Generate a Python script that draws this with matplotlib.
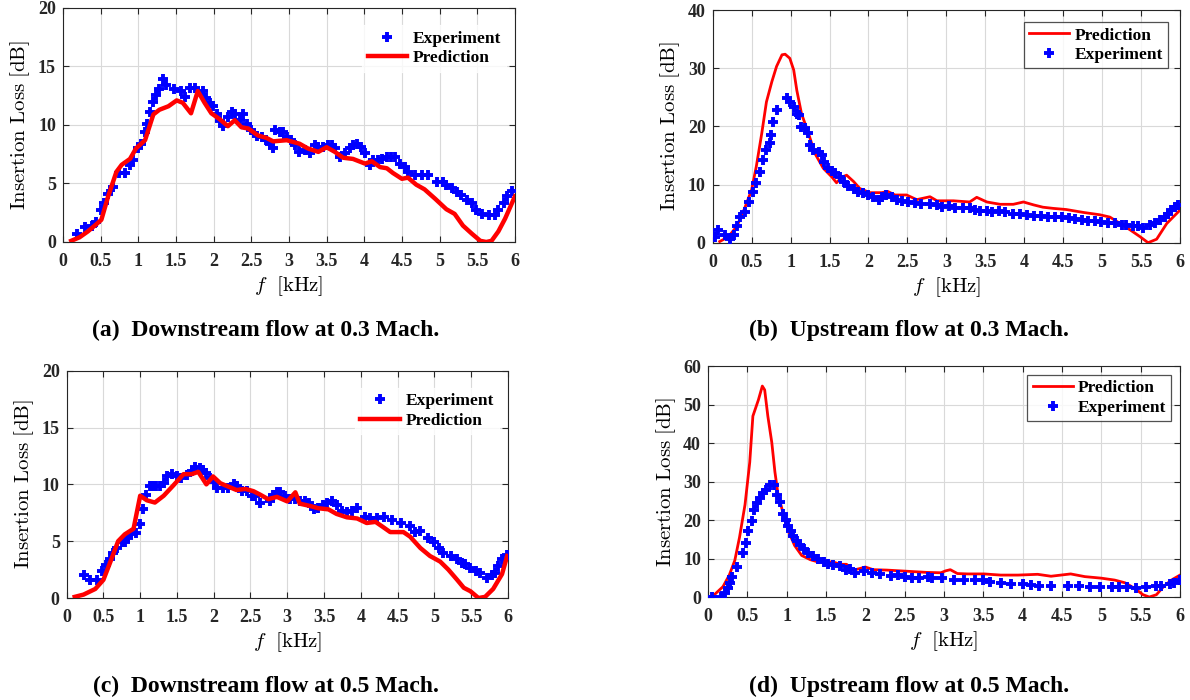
import matplotlib
matplotlib.use("Agg")
import matplotlib.pyplot as plt

plt.rcParams['font.family'] = ['Liberation Serif', 'DejaVu Serif']
plt.rcParams['mathtext.fontset'] = 'cm'

# ---------------- data ----------------
# (a) Downstream 0.3 Mach
a_exp_f = [0.18,0.29,0.38,0.44,0.51,0.55,0.60,0.66,0.75,0.82,0.89,0.93,1.00,1.04,1.09,1.12,1.15,1.20,1.24,1.28,1.33,1.37,1.48,1.57,1.62,1.68,1.75,1.86,1.90,1.95,1.99,2.04,2.08,2.13,2.19,2.24,2.28,2.35,2.39,2.44,2.50,2.57,2.64,2.70,2.75,2.79,2.81,2.88,2.92,2.97,3.03,3.08,3.14,3.21,3.28,3.34,3.39,3.45,3.52,3.57,3.61,3.68,3.74,3.81,3.85,3.90,3.96,4.01,4.07,4.12,4.18,4.23,4.30,4.36,4.41,4.47,4.54,4.58,4.67,4.76,4.85,4.96,5.05,5.09,5.16,5.23,5.29,5.36,5.43,5.49,5.56,5.65,5.74,5.78,5.85,5.89,5.96]
a_exp_v = [0.7,1.3,1.4,1.7,2.7,3.3,4.1,4.7,5.9,5.9,6.6,7.0,8.0,8.4,9.4,10.1,11.1,12.0,12.6,13.1,13.9,13.4,13.1,12.9,12.4,13.2,13.2,12.9,12.3,11.9,11.6,10.9,10.3,9.9,10.7,11.1,10.9,10.4,10.9,10.1,9.6,9.1,9.0,8.7,8.4,8.0,9.6,9.4,9.4,9.0,8.7,8.3,7.7,7.9,7.6,8.3,8.1,8.1,8.3,8.3,8.0,7.3,7.6,8.0,8.3,8.4,8.1,7.6,6.6,7.0,7.0,7.1,7.3,7.3,7.3,6.7,6.4,6.0,5.7,5.7,5.7,5.1,5.1,4.9,4.6,4.3,4.0,3.6,3.3,2.7,2.4,2.3,2.3,2.7,3.3,3.9,4.4]
a_pred_f = [0.11,0.22,0.33,0.44,0.51,0.60,0.71,0.78,0.89,0.97,1.09,1.20,1.28,1.40,1.51,1.59,1.70,1.79,1.88,1.97,2.08,2.19,2.28,2.37,2.46,2.59,2.70,2.79,2.97,3.14,3.25,3.39,3.50,3.61,3.72,3.85,4.01,4.10,4.21,4.30,4.38,4.50,4.58,4.69,4.80,4.94,5.09,5.20,5.31,5.43,5.54,5.62,5.69,5.78,5.87,6.00]
a_pred_v = [0.1,0.4,0.9,1.5,1.9,3.9,6.0,6.6,7.1,8.0,8.7,10.9,11.3,11.6,12.1,11.9,11.0,12.9,11.9,11.0,10.5,9.9,10.4,9.8,9.7,9.1,8.9,8.6,8.7,8.4,8.0,7.7,8.1,7.7,7.2,7.1,6.7,6.9,6.4,6.3,5.9,5.4,5.5,4.9,4.5,3.7,2.8,2.4,1.4,0.7,0.1,0.0,0.1,0.9,2.0,3.9]

# (b) Upstream 0.3 Mach
b_exp_f = [0.03,0.07,0.16,0.22,0.27,0.31,0.35,0.41,0.46,0.52,0.56,0.61,0.65,0.68,0.73,0.75,0.78,0.83,0.96,0.99,1.04,1.08,1.11,1.14,1.19,1.22,1.25,1.29,1.36,1.40,1.43,1.48,1.53,1.57,1.63,1.68,1.74,1.81,1.87,1.93,2.00,2.06,2.13,2.17,2.23,2.30,2.36,2.43,2.51,2.60,2.68,2.79,2.88,2.94,3.03,3.11,3.22,3.30,3.37,3.43,3.52,3.58,3.67,3.75,3.86,3.95,4.03,4.12,4.22,4.31,4.39,4.48,4.57,4.65,4.74,4.82,4.91,4.99,5.08,5.16,5.25,5.31,5.40,5.46,5.53,5.61,5.68,5.74,5.81,5.85,5.89,5.94,5.98]
b_exp_v = [0.9,2.2,1.3,0.7,1.3,2.8,4.5,5.3,7.0,8.8,10.2,12.2,14.2,15.9,17.1,18.5,20.8,22.8,24.8,24.2,23.4,22.2,21.9,19.9,19.7,18.8,16.8,15.9,15.6,15.1,13.9,12.8,12.3,11.9,11.3,10.5,9.7,9.2,8.8,8.5,8.2,7.9,7.4,7.9,8.2,7.9,7.4,7.2,7.0,6.9,6.6,6.6,6.5,6.1,6.3,5.9,5.9,5.9,5.6,5.5,5.5,5.2,5.5,5.2,4.9,4.9,4.8,4.6,4.6,4.5,4.4,4.4,4.2,4.0,3.9,3.8,3.8,3.6,3.4,3.3,3.0,3.0,2.9,2.8,2.6,3.0,3.4,3.9,4.5,5.0,5.7,6.2,6.5]
b_pred_f = [0.09,0.20,0.31,0.41,0.50,0.56,0.63,0.69,0.76,0.82,0.89,0.93,0.99,1.04,1.08,1.14,1.23,1.31,1.42,1.53,1.59,1.66,1.72,1.81,1.89,2.02,2.17,2.25,2.34,2.49,2.62,2.79,2.88,3.09,3.30,3.39,3.52,3.69,3.86,3.99,4.12,4.24,4.37,4.54,4.76,4.97,5.10,5.23,5.36,5.49,5.59,5.70,5.83,6.00]
b_pred_v = [0.2,1.0,2.8,5.9,9.1,13.1,18.8,24.2,27.7,30.3,32.3,32.4,31.7,29.7,26.2,22.2,18.8,15.4,12.8,11.3,10.3,11.3,11.6,10.5,9.3,8.6,8.6,8.8,8.2,8.2,7.4,7.9,7.2,7.2,7.0,7.8,7.0,6.6,6.6,7.0,6.5,6.1,5.9,5.7,5.2,4.8,4.4,3.3,2.2,1.0,0.0,0.6,3.3,5.6]

# (c) Downstream 0.5 Mach
c_exp_f = [0.24,0.32,0.41,0.48,0.54,0.59,0.63,0.69,0.75,0.79,0.84,0.88,0.94,1.00,1.04,1.08,1.13,1.18,1.22,1.27,1.32,1.36,1.43,1.50,1.56,1.63,1.70,1.75,1.81,1.86,1.90,1.95,2.00,2.04,2.13,2.20,2.27,2.31,2.38,2.45,2.52,2.56,2.63,2.77,2.81,2.86,2.90,2.97,3.04,3.11,3.17,3.24,3.29,3.36,3.42,3.49,3.54,3.61,3.67,3.74,3.81,3.88,3.95,4.06,4.13,4.22,4.31,4.42,4.54,4.67,4.74,4.81,4.92,4.99,5.06,5.12,5.22,5.31,5.37,5.42,5.49,5.56,5.62,5.71,5.78,5.83,5.87,5.92,5.99]
c_exp_v = [2.0,1.6,1.6,2.4,2.9,3.4,4.0,4.4,4.9,4.9,5.3,5.6,5.7,6.5,7.8,9.1,9.9,9.9,9.9,9.9,10.1,10.7,10.9,10.7,10.6,10.8,11.2,11.5,11.4,11.3,11.0,10.6,10.2,9.7,9.7,9.7,10.0,9.9,9.4,9.4,9.0,9.0,8.4,8.5,9.1,9.3,9.3,9.0,8.7,8.7,8.5,8.5,8.4,7.8,7.9,8.2,8.4,8.5,8.2,7.7,7.6,7.7,7.9,7.1,7.0,7.0,7.1,6.9,6.6,6.3,5.8,5.9,5.3,4.9,4.4,4.0,3.7,3.4,3.1,3.0,2.6,2.4,2.2,1.8,2.0,2.2,2.8,3.4,3.8]
c_pred_f = [0.11,0.23,0.39,0.50,0.59,0.70,0.79,0.91,1.00,1.09,1.20,1.32,1.45,1.59,1.70,1.79,1.90,1.99,2.09,2.20,2.31,2.43,2.54,2.63,2.74,2.86,3.00,3.11,3.17,3.31,3.42,3.56,3.67,3.81,3.95,4.08,4.20,4.29,4.40,4.58,4.67,4.81,4.94,5.08,5.19,5.31,5.40,5.49,5.60,5.69,5.80,5.92,5.99]
c_pred_v = [0.1,0.3,0.8,1.6,3.1,5.0,5.6,6.1,9.0,8.6,8.4,9.0,9.9,10.9,10.9,11.1,10.0,10.7,10.1,9.8,9.5,9.6,9.4,9.1,8.7,8.9,8.5,9.3,8.3,8.1,7.9,7.8,7.4,7.1,7.0,6.6,6.7,6.3,5.8,5.8,5.4,4.4,3.7,3.2,2.5,1.6,0.9,0.6,0.0,0.1,0.8,2.1,3.7]

# (d) Upstream 0.5 Mach
d_exp_f = [0.05,0.17,0.21,0.25,0.28,0.31,0.37,0.44,0.48,0.51,0.56,0.58,0.62,0.66,0.70,0.74,0.79,0.84,0.88,0.91,0.95,0.99,1.02,1.05,1.08,1.13,1.17,1.22,1.27,1.34,1.40,1.47,1.53,1.59,1.68,1.75,1.81,1.87,1.98,2.08,2.19,2.32,2.42,2.51,2.59,2.68,2.79,2.85,2.98,3.13,3.25,3.40,3.49,3.59,3.72,3.85,4.00,4.10,4.21,4.36,4.57,4.72,4.85,4.98,5.13,5.23,5.32,5.44,5.57,5.70,5.76,5.87,5.93,6.00]
d_exp_v = [0.0,0.0,1.0,2.3,3.6,5.1,7.7,11.4,14.0,17.2,19.7,22.5,24.4,25.7,27.0,27.8,29.1,29.1,26.6,24.7,21.6,19.9,18.5,17.2,15.9,14.6,13.6,12.5,11.4,10.6,10.0,9.1,8.5,8.3,8.0,7.0,7.4,6.3,6.8,6.3,6.0,5.4,5.7,5.1,4.9,4.9,5.1,4.9,4.9,4.4,4.4,4.3,4.4,4.0,3.7,3.4,3.4,3.1,2.9,2.9,2.9,2.9,2.7,2.7,2.6,2.6,2.6,2.3,2.7,2.9,2.9,3.4,3.7,4.3]
d_pred_f = [0.08,0.19,0.27,0.34,0.40,0.47,0.53,0.57,0.64,0.69,0.72,0.76,0.81,0.85,0.89,0.96,1.02,1.10,1.19,1.30,1.40,1.51,1.59,1.68,1.76,1.85,1.93,2.00,2.10,2.27,2.44,2.61,2.78,2.96,3.02,3.08,3.17,3.30,3.51,3.72,3.94,4.19,4.36,4.61,4.79,5.00,5.17,5.30,5.42,5.53,5.61,5.70,5.79,5.89,6.00]
d_pred_v = [0.6,2.7,5.7,9.5,15.5,24.0,35.0,47.0,51.2,54.8,53.8,47.0,40.2,32.5,26.6,21.4,17.2,13.4,10.8,9.7,9.1,9.1,9.1,8.5,8.5,7.0,7.4,7.8,7.1,7.0,6.8,6.6,6.4,6.3,6.8,7.1,6.1,6.0,6.0,5.7,5.7,5.9,5.4,6.0,5.3,4.9,4.4,3.7,2.3,0.6,0.0,0.6,2.7,4.4,5.7]

xticks = [0, 0.5, 1, 1.5, 2, 2.5, 3, 3.5, 4, 4.5, 5, 5.5, 6]
xticklabels = ['0', '0.5', '1', '1.5', '2', '2.5', '3', '3.5', '4', '4.5', '5', '5.5', '6']
captions = ['(a)  Downstream flow at 0.3 Mach.', '(b)  Upstream flow at 0.3 Mach.',
            '(c)  Downstream flow at 0.5 Mach.', '(d)  Upstream flow at 0.5 Mach.']

# ---------------- figure ----------------
fig = plt.figure(figsize=(11.9, 7.0), dpi=100)

panels = [
    dict(rect=[0.0529, 0.6543, 0.3798, 0.3343], ef=a_exp_f, ev=a_exp_v, pf=a_pred_f, pv=a_pred_v,
         ymax=20, ystep=5, lw=3.2, order='EP', frame=False, cap=(0.2235, 0.5286), bap=(0.5, 1.0)),
    dict(rect=[0.5989, 0.6533, 0.3927, 0.3324], ef=b_exp_f, ev=b_exp_v, pf=b_pred_f, pv=b_pred_v,
         ymax=40, ystep=10, lw=2.0, order='PE', frame=True, cap=(0.7639, 0.5286), bap=(0.7, 0.7)),
    dict(rect=[0.0560, 0.1457, 0.3708, 0.3247], ef=c_exp_f, ev=c_exp_v, pf=c_pred_f, pv=c_pred_v,
         ymax=20, ystep=5, lw=3.2, order='EP', frame=False, cap=(0.2235, 0.0200), bap=(0.5, 1.0)),
    dict(rect=[0.5950, 0.1471, 0.3966, 0.3300], ef=d_exp_f, ev=d_exp_v, pf=d_pred_f, pv=d_pred_v,
         ymax=60, ystep=10, lw=2.0, order='PE', frame=True, cap=(0.7639, 0.0200), bap=(0.5, 0.5)),
]

cap_texts = []
for i, p in enumerate(panels):
    ax = fig.add_axes(p['rect'])
    if p['order'] == 'PE':
        ax.plot(p['pf'], p['pv'], color='#ff0000', lw=p['lw'], label='Prediction', zorder=3)
        ax.plot(p['ef'], p['ev'], linestyle='none', marker='+', color='#0000ff',
                ms=7.5, mew=2.8, label='Experiment', zorder=4)
    else:
        ax.plot(p['ef'], p['ev'], linestyle='none', marker='+', color='#0000ff',
                ms=7.5, mew=2.8, label='Experiment', zorder=3)
        ax.plot(p['pf'], p['pv'], color='#ff0000', lw=p['lw'], label='Prediction', zorder=4)
    ax.set_xlim(0, 6)
    ax.set_ylim(0, p['ymax'])
    ax.set_xticks(xticks)
    ax.set_xticklabels(xticklabels)
    ax.set_yticks(range(0, p['ymax'] + 1, p['ystep']))
    for lab in ax.get_xticklabels() + ax.get_yticklabels():
        lab.set_fontweight('bold')
        lab.set_fontsize(13)
    ax.tick_params(direction='in', top=True, right=True, length=4, width=0.8, colors='#262626')
    ax.tick_params(axis='x', pad=8)
    ax.tick_params(axis='y', pad=5)
    ax.grid(True, color='#d9d9d9', lw=0.8)
    ax.set_axisbelow(True)
    for s in ax.spines.values():
        s.set_color('#262626')
        s.set_linewidth(0.8)
    ax.set_xlabel(r'$f\ \ [\mathrm{kHz}]$', fontsize=15, labelpad=3)
    ax.set_ylabel(r'$\mathrm{Insertion\ Loss\ [dB]}$', fontsize=15, labelpad=4)
    bx, by = p['bap']
    leg = ax.legend(prop={'weight': 'bold', 'size': 12.5}, loc='upper right',
                    frameon=True, fancybox=False, borderpad=0.3, handlelength=2.3,
                    handletextpad=0.3, labelspacing=0.2, borderaxespad=0,
                    bbox_to_anchor=(1 - bx * 12.5 / 72 * 100 / (p['rect'][2] * 1190),
                                    1 - by * 12.5 / 72 * 100 / (p['rect'][3] * 700)))
    fr = leg.get_frame()
    fr.set_linewidth(0.9)
    fr.set_edgecolor('#262626' if p['frame'] else 'white')
    t = fig.text(p['cap'][0], p['cap'][1], captions[i], fontsize=16.5, fontweight='bold',
                 ha='center', va='center')
    cap_texts.append(t)

# size the caption so that "(a) ... Mach." spans about 347 px as in the reference
fig.canvas.draw()
renderer = fig.canvas.get_renderer()
w0 = cap_texts[0].get_window_extent(renderer).width
fs = 16.5 * 347.0 / w0
for t in cap_texts:
    t.set_fontsize(fs)

fig.savefig('out.png', dpi=100)
